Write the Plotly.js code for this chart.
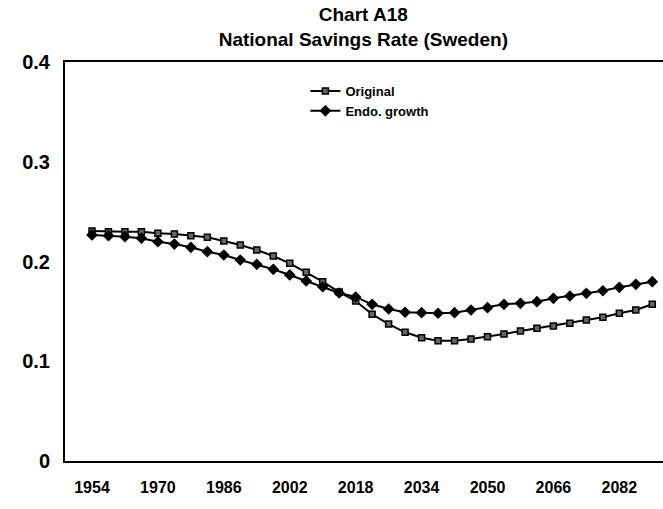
<!DOCTYPE html>
<html>
<head>
<meta charset="utf-8">
<script src="https://cdn.plot.ly/plotly-3.0.1.min.js"></script>
<style>html,body{margin:0;padding:0;background:#fff;}#chart{width:663px;height:509px;}</style>
</head>
<body>
<div id="chart"></div>
<script>
const years = [1954,1958,1962,1966,1970,1974,1978,1982,1986,1990,1994,1998,2002,2006,2010,2014,2018,2022,2026,2030,2034,2038,2042,2046,2050,2054,2058,2062,2066,2070,2074,2078,2082,2086,2090];
const original = [0.2306,0.2299,0.2299,0.2299,0.2283,0.2276,0.2259,0.2243,0.2206,0.2165,0.2115,0.2055,0.1982,0.1892,0.1798,0.1694,0.1604,0.1471,0.1373,0.1290,0.1236,0.1206,0.1206,0.1223,0.1246,0.1273,0.1303,0.1330,0.1353,0.1380,0.1414,0.1441,0.1481,0.1514,0.1571];
const endoGrowth = [0.2266,0.2259,0.2249,0.2233,0.2198,0.2175,0.2142,0.2098,0.2065,0.2015,0.1972,0.1922,0.1865,0.1805,0.1747,0.1684,0.1644,0.1571,0.1524,0.1491,0.1487,0.1481,0.1487,0.1514,0.1537,0.1571,0.1581,0.1597,0.1631,0.1654,0.1681,0.1707,0.1741,0.1771,0.1798];
const xTicks = [1954,1970,1986,2002,2018,2034,2050,2066,2082];
const yTicks = [0,0.1,0.2,0.3,0.4];
const yTickText = ['0','0.1','0.2','0.3','0.4'];

const FONT = 'Arial, "Liberation Sans", sans-serif';
const traces = [
  {x: years, y: original, name: 'Original', type: 'scatter', mode: 'lines+markers',
   line: {color: '#000', width: 2},
   marker: {symbol: 'square', size: 6, color: '#666', line: {color: '#000', width: 1.5}}},
  {x: years, y: endoGrowth, name: 'Endo. growth', type: 'scatter', mode: 'lines+markers',
   line: {color: '#000', width: 2},
   marker: {symbol: 'diamond', size: 9, color: '#000', line: {color: '#000', width: 0}}}
];
const layout = {
  width: 663, height: 509,
  margin: {l: 65, r: 0, t: 62, b: 48},
  paper_bgcolor: '#fff', plot_bgcolor: '#fff',
  font: {family: FONT, color: '#000'},
  title: {text: '<b>Chart A18<br>National Savings Rate (Sweden)</b>', font: {family: FONT, size: 19, color: '#000'},
          x: 0.548, xanchor: 'center', y: 0.958, yanchor: 'top'},
  showlegend: true,
  legend: {x: 0.402, y: 0.965, xanchor: 'left', yanchor: 'top', bgcolor: 'rgba(0,0,0,0)',
           font: {family: FONT, size: 13, color: '#000', weight: 'bold'}, itemwidth: 30, tracegroupgap: 0},
  xaxis: {type: 'linear', range: [1947.45, 2092.6], tickvals: xTicks, ticktext: xTicks.map(String),
          showgrid: false, zeroline: false, showline: true, linecolor: '#000', linewidth: 2, mirror: true,
          ticks: '', ticklabelstandoff: 11, tickfont: {family: FONT, size: 16, color: '#000', weight: 'bold'}},
  yaxis: {range: [0, 0.4], tickvals: yTicks, ticktext: yTickText,
          showgrid: false, zeroline: false, showline: true, linecolor: '#000', linewidth: 2, mirror: false,
          ticks: '', ticklabelstandoff: 9, tickfont: {family: FONT, size: 20, color: '#000', weight: 'bold'}}
};
Plotly.newPlot('chart', traces, layout, {displayModeBar: false, staticPlot: true});
</script>
</body>
</html>
